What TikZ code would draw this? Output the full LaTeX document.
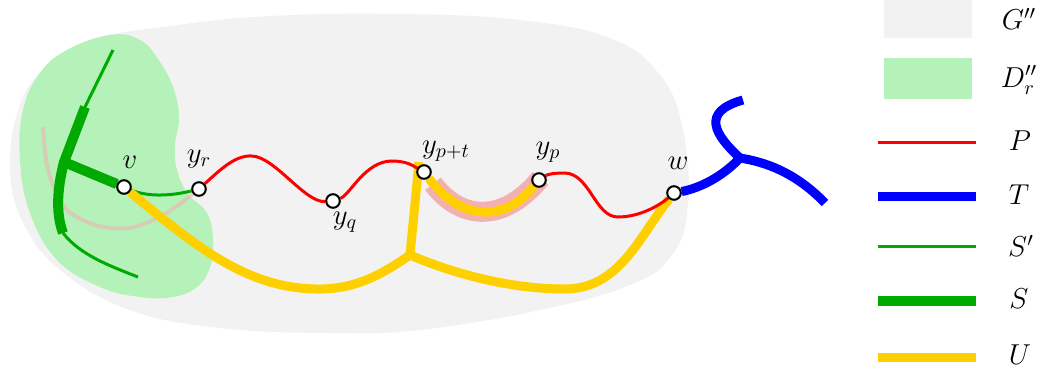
\documentclass[tikz,border=0pt]{standalone}
\usetikzlibrary{calc}
\definecolor{ggray}{RGB}{242,242,242}
\definecolor{dgreen}{RGB}{180,242,185}
\definecolor{sgreen}{RGB}{0,170,0}
\definecolor{uyellow}{RGB}{255,208,0}
\definecolor{hpink}{RGB}{242,176,176}
\pgfdeclarelayer{bg}\pgfdeclarelayer{mid}\pgfsetlayers{bg,mid,main}
\tikzset{
 vtx/.style={circle,draw=black,fill=white,line width=1pt,minimum size=6.8pt,inner sep=0pt},
 lbl/.style={font=\Large,inner sep=0pt},
 pline/.style={draw=red,line width=1.5pt},
 tline/.style={draw=blue,line width=4.5pt},
 spline/.style={draw=sgreen,line width=1.5pt},
 sline/.style={draw=sgreen,line width=5pt},
 uline/.style={draw=uyellow,line width=4.5pt},
 hlline/.style={draw=hpink,line width=10pt},
 fadedline/.style={draw=hpink,draw opacity=0.55,line width=2pt},
 legrect/.style={minimum width=44pt,minimum height=19pt,inner sep=0pt,draw=none},
}
\begin{document}
\begin{tikzpicture}[x=0.5pt,y=-0.5pt]
\useasboundingbox (0,0) rectangle (1046,375);
% vertices
\node[vtx] (v) at (124,187) {};
\node[vtx] (yr) at (199,189) {};
\node[vtx] (yq) at (333,201) {};
\node[vtx] (ypt) at (424,172) {};
\node[vtx] (yp) at (539,180) {};
\node[vtx] (w) at (674,193) {};
% free ends
\coordinate (st) at (113,50);
\coordinate (sa) at (85,107);
\coordinate (sb) at (64,162);
\coordinate (sc) at (63,233);
\coordinate (se) at (138,277);
\coordinate (jn) at (410,255);
\coordinate (ut) at (419,162);
\coordinate (tj) at (740,158);
\coordinate (tu) at (743,100);
\coordinate (tr) at (825,203);
% labels
\node[lbl] (lv) at (130,162) {$v$};
\node[lbl] (lyr) at (199,159) {$y_r$};
\node[lbl] (lyq) at (345,222) {$y_q$};
\node[lbl] (lypt) at (446,151) {$y_{p+t}$};
\node[lbl] (lyp) at (548,152) {$y_p$};
\node[lbl] (lw) at (678,163) {$w$};
\begin{pgfonlayer}{bg}
 \fill[ggray] plot[smooth cycle, tension=0.7] coordinates {(10,165) (20,105) (45,68) (90,40) (170,26) (270,16) (400,14) (520,20) (610,38) (660,75) (683,130) (688,205) (672,255) (630,285) (540,310) (420,330) (330,333) (220,328) (130,310) (60,270) (22,220)};
 \fill[dgreen] plot[smooth cycle, tension=0.7] coordinates {(20,160) (23,110) (40,73) (67,50) (110,35) (140,40) (160,62) (174,90) (179,118) (175,145) (177,170) (188,194) (207,213) (213,240) (210,267) (197,287) (173,297) (140,297) (100,287) (57,260) (30,213)};
\end{pgfonlayer}
\begin{pgfonlayer}{mid}
 \draw[fadedline] plot[smooth] coordinates {(43,127) (48,170) (65,208) (95,225) (130,228) (165,214) (199,189)};
 % S' and S
 \draw[spline] (st) -- (sa);
 \draw[sline] (sa) -- (sb) .. controls (58,185) and (55,212) .. (sc);
 \draw[sline] (sb) -- (v);
 \draw[spline] (sc) .. controls (80,255) and (110,266) .. (se);
 \draw[spline] (v) .. controls (150,198) and (175,195) .. (yr);
 % highlight
 \draw[hlline, shorten <=3.5pt, shorten >=-5pt] (ypt) .. controls (462,222) and (505,222) .. (yp);
 % U
 \draw[uline] (v) .. controls (200,250) and (250,290) .. (322,289) .. controls (360,288) and (385,272) .. (jn);
 \draw[uline] (jn) -- (ut);
 \draw[uline] (jn) .. controls (440,268) and (500,289) .. (565,289) .. controls (620,289) and (640,235) .. (w);
 \draw[uline] (ypt) .. controls (462,222) and (505,222) .. (yp);
 % P
 \draw[pline] (yr) .. controls (220,170) and (235,155) .. (252,156) .. controls (275,157) and (305,203) .. (yq);
 \draw[pline] (yq) .. controls (350,195) and (365,161) .. (392,161) .. controls (408,161) and (415,167) .. (ypt);
 \draw[pline] (yp) .. controls (548,174) and (555,173) .. (565,173) .. controls (590,174) and (595,217) .. (618,217) .. controls (640,217) and (660,205) .. (w);
 % T
 \draw[tline] (w) .. controls (700,188) and (722,177) .. (tj) .. controls (765,162) and (795,172) .. (tr);
 \draw[tline] (tj) .. controls (715,135) and (700,112) .. (tu);
\end{pgfonlayer}
% legend
\node[legrect,fill=ggray] (kg) at (928,18.5) {};
\node[legrect,fill=dgreen,minimum height=20.5pt] (kd) at (928,78.5) {};
\coordinate (kp1) at (878,142); \coordinate (kp2) at (976,142);
\coordinate (kt1) at (878,196); \coordinate (kt2) at (976,196);
\coordinate (ks1) at (878,246); \coordinate (ks2) at (976,246);
\coordinate (kS1) at (878,301); \coordinate (kS2) at (976,301);
\coordinate (ku1) at (878,357); \coordinate (ku2) at (976,357);
\draw[pline] (kp1) -- (kp2);
\draw[tline] (kt1) -- (kt2);
\draw[spline] (ks1) -- (ks2);
\draw[sline] (kS1) -- (kS2);
\draw[uline] (ku1) -- (ku2);
\node[lbl] (lg) at (1019,19) {$G''$};
\node[lbl] (ld) at (1019,80) {$D''_r$};
\node[lbl] (lp) at (1020,141) {$P$};
\node[lbl] (lt) at (1019,195) {$T$};
\node[lbl] (ls) at (1021,246) {$S'$};
\node[lbl] (lS) at (1019,299) {$S$};
\node[lbl] (lu) at (1020,355) {$U$};
\end{tikzpicture}
\end{document}
